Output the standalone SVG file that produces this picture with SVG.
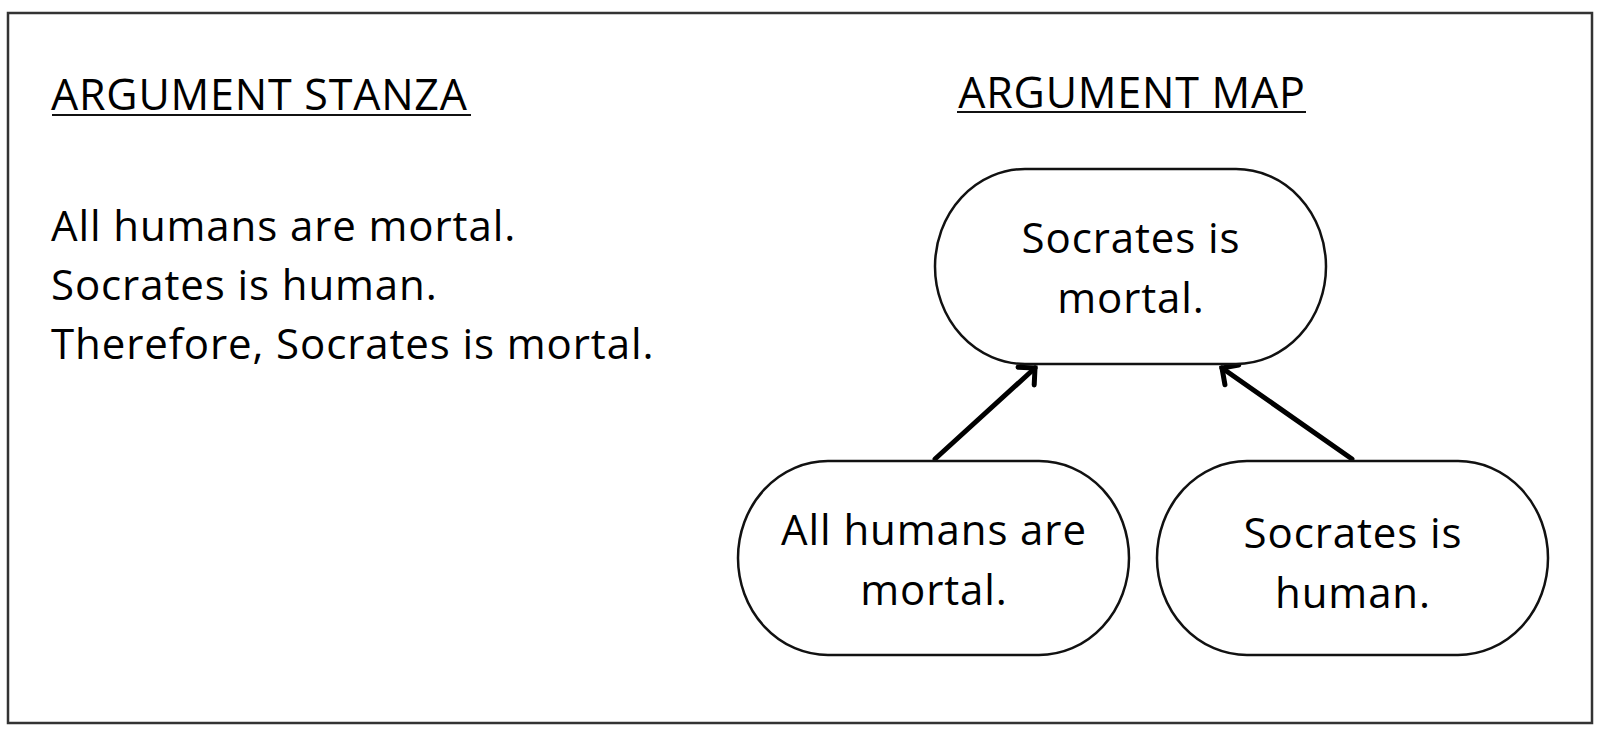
<svg xmlns="http://www.w3.org/2000/svg" width="1600" height="736" viewBox="0 0 1600 736">
<style>
.title{font-family:"Open Sans","Liberation Sans",sans-serif;font-size:43px;letter-spacing:0.8px;fill:#000}
.body{font-family:"Open Sans","Liberation Sans",sans-serif;font-size:42px;letter-spacing:0.9px;fill:#000}
.node rect{fill:#fff;stroke:#111;stroke-width:2.5}
.node text{text-anchor:middle}
.ul{stroke:#111;stroke-width:2.2}
.conn{stroke:#000;stroke-width:5;fill:none;stroke-linecap:round}
</style>
<defs>
<marker id="arr" markerUnits="userSpaceOnUse" orient="auto" refX="0" refY="0" markerWidth="30" markerHeight="30" viewBox="-20 -15 25 30" overflow="visible">
<path d="M -12 -12 L 0 0 L -12 12" fill="none" stroke="#000" stroke-width="5" stroke-linecap="round" stroke-linejoin="miter"/>
</marker>
</defs>
<rect x="0" y="0" width="1600" height="736" fill="#fff"/>
<rect id="frame" x="8" y="13" width="1584" height="710" fill="none" stroke="#333" stroke-width="2.5"/>
<g id="stanza">
<text class="title" x="51" y="110">ARGUMENT STANZA</text>
<line class="ul" x1="52" y1="115" x2="471" y2="115"/>
<text class="body" x="51" y="241">All humans are mortal.</text>
<text class="body" x="51" y="300">Socrates is human.</text>
<text class="body" x="51" y="359">Therefore, Socrates is mortal.</text>
</g>
<g id="map-title">
<text class="title" x="1132" y="108" text-anchor="middle">ARGUMENT MAP</text>
<line class="ul" x1="957" y1="112" x2="1306" y2="112"/>
</g>
<g id="connectors">
<line class="conn" x1="935" y1="459" x2="1035" y2="368" marker-end="url(#arr)"/>
<line class="conn" x1="1352" y1="459" x2="1222" y2="368" marker-end="url(#arr)"/>
</g>
<g id="conclusion" class="node">
<rect x="935" y="169" width="391" height="195" rx="90" ry="97.5"/>
<text class="body" x="1131" y="253">Socrates is</text>
<text class="body" x="1131" y="313">mortal.</text>
</g>
<g id="premise1" class="node">
<rect x="738" y="461" width="391" height="194" rx="90" ry="97"/>
<text class="body" x="934" y="545">All humans are</text>
<text class="body" x="934" y="605">mortal.</text>
</g>
<g id="premise2" class="node">
<rect x="1157" y="461" width="391" height="194" rx="90" ry="97"/>
<text class="body" x="1353" y="548">Socrates is</text>
<text class="body" x="1353" y="608">human.</text>
</g>
</svg>
